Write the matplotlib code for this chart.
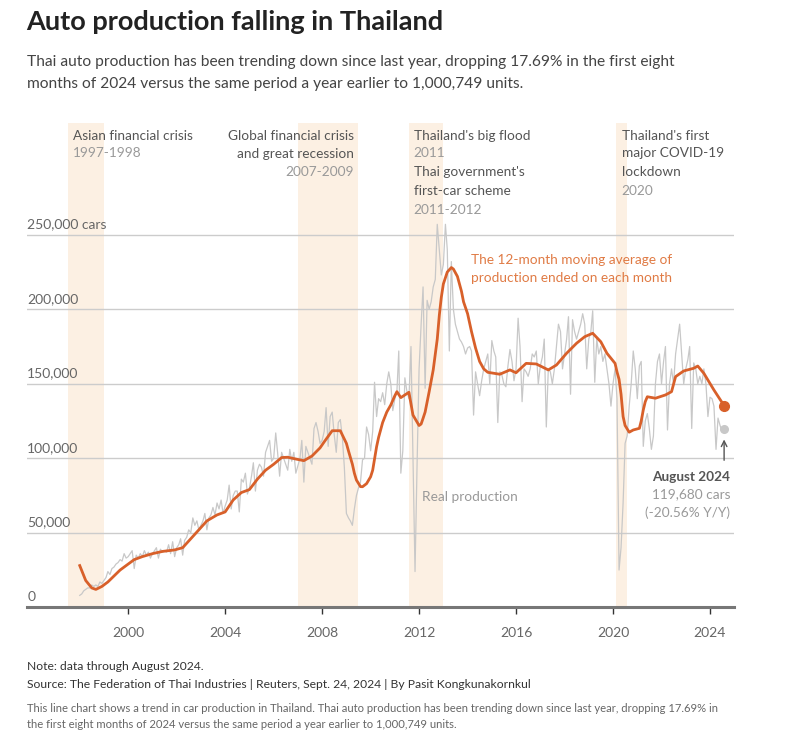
import pandas as pd
import matplotlib.pyplot as plt

plt.rcParams['font.family'] = ['Lato', 'DejaVu Sans']

# Real monthly production, thousands of cars
prod_1998 = [8, 9, 11, 12, 13, 13, 15, 14, 15, 14, 17, 16]
prod_1999 = [18, 20, 24, 22, 26, 27, 29, 30, 32, 31, 36, 33]
prod_2000 = [34, 36, 38, 26, 35, 33, 36, 34, 38, 35, 37, 33]
prod_2001 = [36, 38, 40, 33, 39, 37, 38, 37, 42, 36, 44, 34]
prod_2002 = [40, 42, 46, 35, 45, 47, 52, 50, 60, 55, 58, 52]
prod_2003 = [55, 58, 63, 52, 60, 62, 67, 62, 70, 66, 72, 63]
prod_2004 = [68, 72, 82, 66, 75, 78, 78, 64, 86, 84, 90, 76]
prod_2005 = [80, 88, 97, 78, 92, 96, 94, 88, 104, 108, 112, 98]
prod_2006 = [100, 117, 104, 88, 104, 100, 96, 92, 106, 98, 104, 90]
prod_2007 = [95, 100, 112, 84, 108, 104, 100, 96, 120, 124, 118, 110]
prod_2008 = [112, 118, 134, 108, 128, 131, 116, 104, 124, 126, 114, 94]
prod_2009 = [63, 60, 58, 55, 66, 75, 80, 84, 99, 100, 121, 116]
prod_2010 = [105, 118, 151, 128, 140, 138, 144, 136, 150, 158, 150, 132]
prod_2011 = [140, 145, 172, 90, 105, 154, 145, 140, 175, 100, 24, 94]
prod_2012 = [160, 190, 215, 147, 206, 200, 205, 215, 220, 257, 240, 223]
prod_2013 = [230, 257, 240, 172, 232, 200, 190, 185, 180, 178, 175, 170]
prod_2014 = [174, 175, 172, 129, 158, 150, 142, 152, 160, 165, 170, 150]
prod_2015 = [179, 172, 168, 124, 158, 156, 150, 148, 162, 173, 165, 152]
prod_2016 = [160, 194, 175, 138, 160, 158, 155, 160, 170, 168, 172, 150]
prod_2017 = [162, 168, 180, 121, 160, 158, 150, 160, 175, 190, 185, 160]
prod_2018 = [170, 180, 195, 143, 193, 185, 180, 185, 190, 197, 190, 160]
prod_2019 = [180, 185, 199, 151, 180, 170, 175, 165, 170, 160, 150, 135]
prod_2020 = [150, 160, 140, 25, 40, 70, 110, 115, 135, 150, 172, 160]
prod_2021 = [140, 162, 165, 108, 125, 130, 120, 106, 115, 150, 165, 170]
prod_2022 = [150, 165, 175, 119, 150, 160, 150, 170, 180, 190, 170, 150]
prod_2023 = [160, 166, 175, 120, 164, 160, 150, 155, 150, 160, 150, 128]
prod_2024 = [141, 140, 135, 106, 127, 122, 118, 119.68]

# 12-month moving average, thousands of cars
ma_months = ["1998-01", "1998-04", "1998-07", "1998-09", "1998-12", "1999-03",
             "1999-06", "1999-09", "1999-12", "2000-04", "2000-08", "2001-01",
             "2001-06", "2001-12", "2002-04", "2002-08", "2002-12", "2003-04",
             "2003-09", "2004-01", "2004-05", "2004-09", "2005-01", "2005-05",
             "2005-09", "2006-01", "2006-05", "2006-08", "2006-12", "2007-04",
             "2007-08", "2007-12", "2008-02", "2008-06", "2008-10", "2009-01",
             "2009-02", "2009-04", "2009-05", "2009-06", "2009-08", "2009-09",
             "2009-11", "2010-01", "2010-02", "2010-04", "2010-05", "2010-07",
             "2010-09", "2010-11", "2011-01", "2011-02", "2011-04", "2011-08",
             "2011-10", "2012-01", "2012-02", "2012-03", "2012-04", "2012-06",
             "2012-08", "2012-10", "2012-11", "2012-12", "2013-01", "2013-03",
             "2013-05", "2013-06", "2013-08", "2013-10", "2013-11", "2014-01",
             "2014-03", "2014-05", "2014-07", "2014-09", "2014-11", "2015-05",
             "2015-10", "2016-01", "2016-06", "2016-11", "2017-05", "2017-09",
             "2018-02", "2018-07", "2018-11", "2019-03", "2019-07", "2019-10",
             "2020-02", "2020-03", "2020-04", "2020-05", "2020-06", "2020-07",
             "2020-09", "2020-11", "2021-02", "2021-03", "2021-04", "2021-05",
             "2021-06", "2021-10", "2022-03", "2022-06", "2022-08", "2022-12",
             "2023-05", "2023-07", "2023-10", "2024-03", "2024-08"]
ma_values = [28, 18, 13, 12, 14, 17,
             21, 25, 28, 32, 34, 36,
             37.5, 38.5, 40, 46, 52, 58,
             62, 64, 72, 77, 79, 86,
             92, 96, 100.5, 100.7, 99.5, 98.4,
             101.5, 107, 111, 118.5, 118.5, 110,
             105, 96, 90, 85.4, 81, 80.9,
             83, 87.6, 92, 107.8, 114, 124,
             131, 135.8, 142, 144.7, 140.7, 144.3,
             129, 122, 123, 126.8, 131, 144.7,
             159.3, 180, 196, 208, 217, 225,
             228, 227, 222, 212, 205, 197,
             185, 174, 165, 160, 157.7, 156.4,
             159.3, 157.4, 163.7, 163.3, 159.3, 162.6,
             170.5, 177.2, 181.6, 183.9, 178.2, 170.5,
             163.7, 158, 153, 143, 128, 122,
             117.5, 119, 120.1, 125, 132.4, 138,
             141.3, 140.3, 142.5, 144.7, 154.8, 158.6,
             160.4, 161.9, 157, 145.8, 135.3]

events = [("1997-07-01", "1999-01-01"), ("2007-01-01", "2009-07-01"),
          ("2011-08-01", "2013-01-01"), ("2020-02-15", "2020-08-01")]

real = (prod_1998 + prod_1999 + prod_2000 + prod_2001 + prod_2002 + prod_2003 +
        prod_2004 + prod_2005 + prod_2006 + prod_2007 + prod_2008 + prod_2009 +
        prod_2010 + prod_2011 + prod_2012 + prod_2013 + prod_2014 + prod_2015 +
        prod_2016 + prod_2017 + prod_2018 + prod_2019 + prod_2020 + prod_2021 +
        prod_2022 + prod_2023 + prod_2024)
real_dates = pd.date_range("1998-01-01", periods=len(real), freq="MS")
real_cars = [v * 1000 for v in real]
ma_dates = pd.to_datetime(ma_months)
ma_cars = [v * 1000 for v in ma_values]

W, H = 792, 750
fig = plt.figure(figsize=(W / 100, H / 100), dpi=100)
ax = fig.add_axes([27.3 / W, 1 - 607.3 / H, (734 - 27.3) / W, (607.3 - 123) / H])

def px(x, y):
    return x / W, 1 - y / H

for start, end in events:
    ax.axvspan(pd.Timestamp(start), pd.Timestamp(end), color="#fcf0e3", lw=0, zorder=0)

ax.set_ylim(0, 325000)
ax.set_xlim(pd.Timestamp("1995-11-03"), pd.Timestamp("2024-12-28"))
ax.set_yticks([50000, 100000, 150000, 200000, 250000])
ax.yaxis.grid(True, color="#cccccc", lw=1)
ax.tick_params(axis="y", length=0, labelleft=False)
for s in ["left", "right", "top"]:
    ax.spines[s].set_visible(False)
ax.spines["bottom"].set_color("#777777")
ax.spines["bottom"].set_linewidth(2.2)
ax.set_axisbelow(True)

years = [2000, 2004, 2008, 2012, 2016, 2020, 2024]
ax.set_xticks([pd.Timestamp(f"{y}-01-01") for y in years])
ax.set_xticklabels([str(y) for y in years], color="#666666", fontsize=10)
ax.tick_params(axis="x", length=5, width=1, color="#333333", pad=9)

ytick_labels = ["0", "50,000", "100,000", "150,000", "200,000", "250,000 cars"]
for i, lab in enumerate(ytick_labels):
    ax.text(0, i * 50000 + 3000, lab, transform=ax.get_yaxis_transform(),
            ha="left", va="bottom", fontsize=10, color="#666666")

ax.plot(real_dates, real_cars, color="#c8c8c8", lw=0.9, zorder=2)
ax.plot(ma_dates, ma_cars, color="#d8602a", lw=2, zorder=3, solid_joinstyle="round")
ax.plot(real_dates[-1], real_cars[-1], "o", color="#c8c8c8", ms=5.5, zorder=3)
ax.plot(ma_dates[-1], ma_cars[-1], "o", color="#d8602a", ms=7, zorder=4)

dark, light = "#555555", "#999999"
fs = 9.8
def label(x, y, text, color, ha="left", **kw):
    ax.text(pd.Timestamp(x), y, text, color=color, ha=ha, va="center", fontsize=fs, **kw)

label("1997-09-20", 316500, "Asian financial crisis", dark)
label("1997-09-20", 304900, "1997-1998", light)
label("2009-04-22", 316500, "Global financial crisis", dark, ha="right")
label("2009-04-22", 304400, "and great recession", dark, ha="right")
label("2009-04-22", 292100, "2007-2009", light, ha="right")
label("2011-10-12", 316500, "Thailand's big flood", dark)
label("2011-10-12", 304900, "2011", light)
label("2011-10-12", 292100, "Thai government's", dark)
label("2011-10-12", 279400, "first-car scheme", dark)
label("2011-10-12", 266600, "2011-2012", light)
label("2020-05-08", 316500, "Thailand's first", dark)
label("2020-05-08", 304900, "major COVID-19", dark)
label("2020-05-08", 292100, "lockdown", dark)
label("2020-05-08", 279400, "2020", light)
label("2014-02-14", 233100, "The 12-month moving average of", "#e07b45")
label("2014-02-14", 221200, "production ended on each month", "#e07b45")
label("2012-02-20", 74200, "Real production", light)
label("2024-11-03", 87600, "August 2024", dark, ha="right", fontweight="bold")
label("2024-11-03", 76000, "119,680 cars", light, ha="right")
label("2024-11-03", 63300, "(-20.56% Y/Y)", light, ha="right")
ax.annotate("", xy=(real_dates[-1], 114500), xytext=(real_dates[-1], 96800),
            arrowprops=dict(arrowstyle="->", color="#555555", lw=1))

fig.text(*px(26, 22), "Auto production falling in Thailand", fontsize=19.5,
         fontweight="bold", color="#222222", va="center")
fig.text(*px(27, 62), "Thai auto production has been trending down since last year, "
         "dropping 17.69% in the first eight", fontsize=11.2, color="#444444", va="center")
fig.text(*px(27, 84), "months of 2024 versus the same period a year earlier to 1,000,749 units.",
         fontsize=11.2, color="#444444", va="center")

fig.text(*px(27, 666), "Note: data through August 2024.", fontsize=8.7,
         color="#333333", va="center")
fig.text(*px(27, 684), "Source: The Federation of Thai Industries | Reuters, Sept. 24, 2024 "
         "| By Pasit Kongkunakornkul", fontsize=8.7, color="#333333", va="center")
fig.text(*px(27, 708), "This line chart shows a trend in car production in Thailand. Thai auto "
         "production has been trending down since last year, dropping 17.69% in",
         fontsize=8.1, color="#666666", va="center")
fig.text(*px(27, 725), "the first eight months of 2024 versus the same period a year earlier "
         "to 1,000,749 units.", fontsize=8.1, color="#666666", va="center")

fig.savefig("out.png", dpi=100)
